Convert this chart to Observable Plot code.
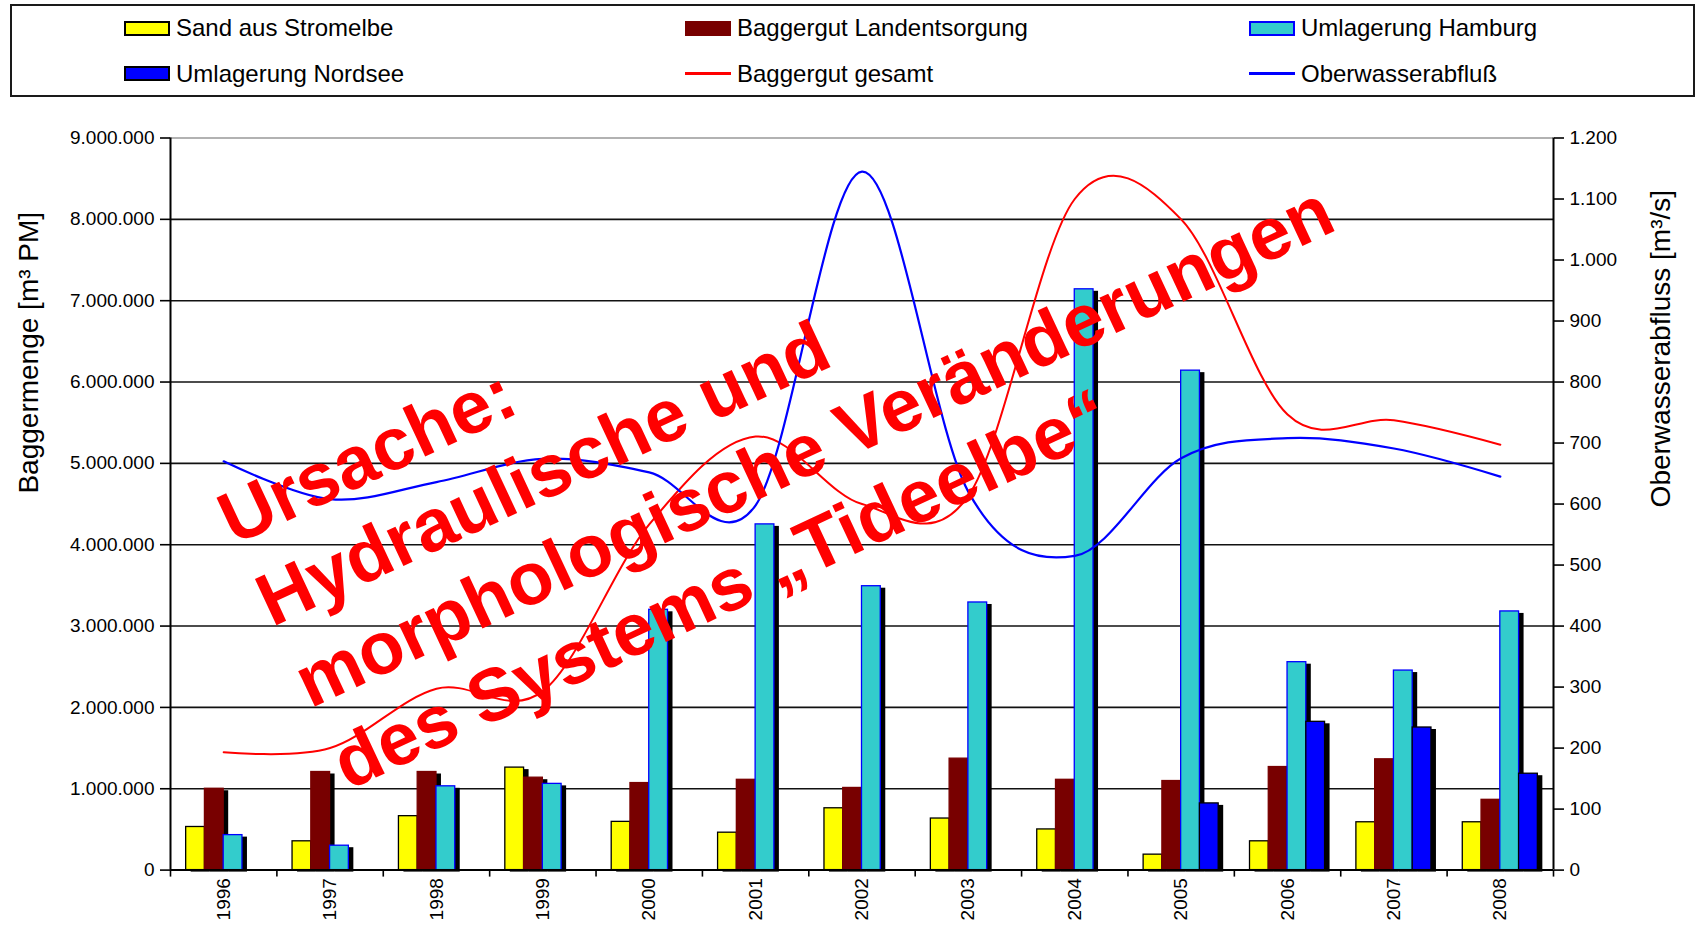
<!DOCTYPE html>
<html>
<head>
<meta charset="utf-8">
<script src="https://cdn.jsdelivr.net/npm/d3@7"></script>
<script src="https://cdn.jsdelivr.net/npm/@observablehq/plot@0.6"></script>
<style>
  html, body { margin: 0; padding: 0; background: #fff; }
  body { width: 1698px; height: 929px; position: relative; overflow: hidden; font-family: "Liberation Sans", Arial, sans-serif; }
  #legend { position: absolute; left: 10px; top: 4px; width: 1681px; height: 89px; border: 2px solid #1a1a1a; }
  .item { position: absolute; display: flex; align-items: center; font-size: 24px; color: #000; line-height: 1; white-space: nowrap; height: 24px; }
  .sw { width: 46px; height: 15px; box-sizing: border-box; margin-right: 6px; flex: none; }
  .ln { width: 46px; height: 3px; margin-right: 6px; flex: none; }
  #chart { position: absolute; left: 0; top: 100px; }
</style>
</head>
<body>
<div id="legend"></div>
<div id="chart"></div>
<script>
// ---- data ----
const years = [1996, 1997, 1998, 1999, 2000, 2001, 2002, 2003, 2004, 2005, 2006, 2007, 2008];
const sandStromelbe = [530000, 354000, 663000, 1260000, 593000, 460000, 760000, 634000, 500000, 190000, 354000, 588000, 588000];
const baggergutLandentsorgung = [1000000, 1206000, 1206000, 1136000, 1070000, 1110000, 1010000, 1370000, 1110000, 1095000, 1267000, 1362000, 864000];
const umlagerungHamburg = [430000, 300000, 1030000, 1060000, 3200000, 4250000, 3490000, 3290000, 7140000, 6140000, 2556000, 2453000, 3180000];
const umlagerungNordsee = [0, 0, 0, 0, 0, 0, 0, 0, 0, 820000, 1823000, 1753000, 1185000];
const baggergutGesamt = [1450000, 1500000, 2230000, 2200000, 4250000, 5330000, 4500000, 4600000, 8250000, 8000000, 5600000, 5530000, 5230000];
const oberwasserabfluss = [670, 608, 636, 674, 652, 598, 1145, 620, 515, 675, 708, 691, 645];
const leftTicks = [0, 1000000, 2000000, 3000000, 4000000, 5000000, 6000000, 7000000, 8000000, 9000000];
const rightTicks = [0, 100, 200, 300, 400, 500, 600, 700, 800, 900, 1000, 1100, 1200];
const leftTitle = "Baggermenge [m³ PM]";
const rightTitle = "Oberwasserabfluss [m³/s]";
const annotation = "Ursache:\nHydraulische und\nmorphologische Veränderungen\ndes Systems „Tideelbe“";

const seriesNames = ["Sand aus Stromelbe", "Baggergut Landentsorgung", "Umlagerung Hamburg", "Umlagerung Nordsee", "Baggergut gesamt", "Oberwasserabfluß"];

// ---- styles ----
const barStyles = [
  {fill: "#FFFF00", stroke: "#000000"},
  {fill: "#780000", stroke: "#780000"},
  {fill: "#33CCCC", stroke: "#0000FF"},
  {fill: "#0000FF", stroke: "#000000"}
];
const barSeries = [sandStromelbe, baggergutLandentsorgung, umlagerungHamburg, umlagerungNordsee];

// legend
const legendItems = [
  {name: seriesNames[0], kind: "sw", fill: "#FFFF00", border: "#000", left: 124, top: 16},
  {name: seriesNames[1], kind: "sw", fill: "#780000", border: "#780000", left: 685, top: 16},
  {name: seriesNames[2], kind: "sw", fill: "#33CCCC", border: "#0000FF", left: 1249, top: 16},
  {name: seriesNames[3], kind: "sw", fill: "#0000FF", border: "#000", left: 124, top: 61.5},
  {name: seriesNames[4], kind: "ln", fill: "#FF0000", left: 685, top: 61.5},
  {name: seriesNames[5], kind: "ln", fill: "#0000FF", left: 1249, top: 61.5}
];
for (const it of legendItems) {
  const d = document.createElement("div");
  d.className = "item";
  d.style.left = it.left + "px";
  d.style.top = it.top + "px";
  const s = document.createElement("span");
  s.className = it.kind;
  s.style.background = it.fill;
  if (it.kind === "sw") s.style.border = "2px solid " + it.border;
  d.appendChild(s);
  d.appendChild(document.createTextNode(it.name));
  document.body.appendChild(d);
}

// number format (German)
const de = d3.formatLocale({decimal: ",", thousands: ".", grouping: [3], currency: ["", " €"]});
const fmt = de.format(",.0f");
const K = leftTicks[leftTicks.length - 1] / rightTicks[rightTicks.length - 1]; // right -> left scale factor

const BAR = 0.1764, GROUP0 = -0.3528;
const barMarks = barSeries.flatMap((vals, k) => {
  const data = years.map((yr, i) => ({year: yr, value: vals[i]})).filter(d => d.value > 0);
  const x1 = d => d.year + GROUP0 + k * BAR;
  const x2 = d => d.year + GROUP0 + (k + 1) * BAR;
  return [
    Plot.rect(data, {x1, x2, y1: 0, y2: "value", fill: "#000", dx: 5, dy: 2}),
    Plot.rect(data, {x1, x2, y1: 0, y2: "value", fill: barStyles[k].fill, stroke: barStyles[k].stroke, strokeWidth: 1.3})
  ];
});

const lineRed = years.map((yr, i) => ({year: yr, v: baggergutGesamt[i]}));
const lineBlue = years.map((yr, i) => ({year: yr, v: oberwasserabfluss[i] * K}));
const boundaries = years.map(y => y - 0.5).concat([years[years.length - 1] + 0.5]);
const xDomain = [boundaries[0], boundaries[boundaries.length - 1]];
const FONT = "Liberation Sans, Arial, sans-serif";

const chart = Plot.plot({
  width: 1698,
  height: 829,
  marginTop: 37.5,
  marginBottom: 59.4,
  marginLeft: 170,
  marginRight: 145,
  x: {domain: xDomain},
  y: {domain: [leftTicks[0], leftTicks[leftTicks.length - 1]]},
  style: {fontFamily: FONT, background: "#fff", color: "#000", overflow: "visible"},
  marks: [
    Plot.ruleY(leftTicks.slice(1, -1), {stroke: "#111", strokeWidth: 1.6}),
    Plot.ruleY([leftTicks[leftTicks.length - 1]], {stroke: "#999", strokeWidth: 1.5}),
    ...barMarks,
    Plot.line(lineRed, {x: "year", y: "v", stroke: "#FF0000", strokeWidth: 2, curve: "cardinal"}),
    Plot.line(lineBlue, {x: "year", y: "v", stroke: "#0000FF", strokeWidth: 2.2, curve: "cardinal"}),
    Plot.ruleX(xDomain, {stroke: "#000", strokeWidth: 2}),
    Plot.ruleY([0], {stroke: "#000", strokeWidth: 2}),
    Plot.axisY({anchor: "left", ticks: leftTicks, tickFormat: fmt, tickSize: 10, tickPadding: 6, fontSize: 19, strokeWidth: 1.6, label: null}),
    Plot.axisY({anchor: "right", ticks: rightTicks.map(v => v * K), tickFormat: d => fmt(Math.round(d / K)), tickSize: 10, tickPadding: 6, fontSize: 19, strokeWidth: 1.6, label: null}),
    Plot.axisX({ticks: years, tickFormat: d => String(d), tickSize: 0, tickPadding: 8, tickRotate: -90, fontSize: 19, label: null}),
    Plot.axisX({ticks: boundaries, tickFormat: () => "", tickSize: 7, strokeWidth: 1.6, label: null}),
    Plot.text([leftTitle], {frameAnchor: "left", y: () => 6360000, dx: -141, rotate: -90, textAnchor: "middle", fontSize: 28, fill: "#000"}),
    Plot.text([rightTitle], {frameAnchor: "right", y: () => 6410000, dx: 108, rotate: -90, textAnchor: "middle", fontSize: 28, fill: "#000"}),
    Plot.text([annotation], {x: () => 1997.17, y: () => 980000, text: d => d, rotate: -25, textAnchor: "start", lineAnchor: "bottom", lineHeight: 1.216, fontSize: 74, fontWeight: "bold", fill: "#FF0000"})
  ]
});
document.getElementById("chart").appendChild(chart);
</script>
</body>
</html>
